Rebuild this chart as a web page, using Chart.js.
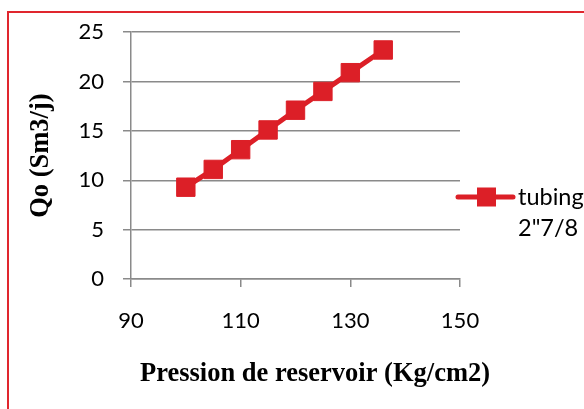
<!DOCTYPE html>
<html>
<head>
<meta charset="utf-8">
<script src="https://cdn.jsdelivr.net/npm/chart.js@4"></script>
<style>
  html, body { margin: 0; padding: 0; background: #fff; }
  #wrap { width: 584px; height: 409px; }
</style>
</head>
<body>
<div id="wrap"><canvas id="chart" width="584" height="409"></canvas></div>
<script>
// reservoir pressure vs oil rate
const pressure = [100, 105, 110, 115, 120, 125, 130, 136];
const qo = [9.3, 11.1, 13.1, 15.1, 17.1, 19.0, 20.9, 23.2];
const xTicks = [90, 110, 130, 150];
const yTicks = [0, 5, 10, 15, 20, 25];
const seriesName = 'tubing 2"7/8';
const xTitle = 'Pression de reservoir (Kg/cm2)';
const yTitle = 'Qo (Sm3/j)';

const red = '#dc1f27';
const grid = '#8a8a8a';
const tickFont = { family: 'Lato, "Open Sans", sans-serif', size: 22 };
const titleFont = { family: '"Liberation Serif", "Times New Roman", serif', size: 26.5, weight: 'bold' };

// frame around the chart (only top and left edges fall inside the canvas)
const frame = {
  id: 'frame',
  beforeDraw(chart) {
    const ctx = chart.ctx;
    ctx.save();
    ctx.fillStyle = '#fff';
    ctx.fillRect(0, 0, chart.width, chart.height);
    ctx.strokeStyle = '#e0262e';
    ctx.lineWidth = 2;
    ctx.beginPath();
    ctx.moveTo(8, chart.height);
    ctx.lineTo(8, 12);
    ctx.lineTo(chart.width, 12);
    ctx.stroke();
    ctx.restore();
  }
};

// x title is wider than the plot, so it is drawn here instead of by the scale
const bottomTitle = {
  id: 'bottomTitle',
  afterDraw(chart) {
    const ctx = chart.ctx;
    ctx.save();
    ctx.fillStyle = '#000';
    ctx.font = 'bold ' + titleFont.size + 'px ' + titleFont.family;
    ctx.textAlign = 'left';
    ctx.textBaseline = 'alphabetic';
    ctx.fillText(xTitle, chart.chartArea.left + 9, 381);
    ctx.restore();
  }
};

// legend on the right, label wrapped over two lines
const sideLegend = {
  id: 'sideLegend',
  afterDraw(chart) {
    const ctx = chart.ctx;
    const ds = chart.data.datasets[0];
    const x0 = chart.chartArea.right - 2;
    const y0 = 197;
    ctx.save();
    ctx.strokeStyle = ds.borderColor;
    ctx.lineWidth = ds.borderWidth;
    ctx.lineCap = 'round';
    ctx.beginPath();
    ctx.moveTo(x0, y0);
    ctx.lineTo(x0 + 55, y0);
    ctx.stroke();
    ctx.fillStyle = ds.pointBackgroundColor;
    ctx.fillRect(x0 + 19, y0 - 9.5, 19, 19);
    ctx.fillStyle = '#000';
    ctx.font = '23.5px ' + tickFont.family;
    ctx.textBaseline = 'alphabetic';
    ds.label.split(' ').forEach((line, i) => {
      ctx.fillText(line, x0 + 60, y0 + 8 + i * 31);
    });
    ctx.restore();
  }
};

new Chart(document.getElementById('chart'), {
  type: 'line',
  data: {
    datasets: [{
      label: seriesName,
      data: pressure.map((p, i) => ({ x: p, y: qo[i] })),
      borderColor: red,
      borderWidth: 5,
      pointStyle: 'rect',
      pointRadius: 13,
      pointBackgroundColor: red,
      pointBorderColor: red,
      pointBorderWidth: 1,
      tension: 0
    }]
  },
  options: {
    responsive: false,
    animation: false,
    devicePixelRatio: 1,
    layout: { padding: { left: 0, top: 31, right: 124, bottom: 0 } },
    plugins: {
      legend: { display: false },
      tooltip: { enabled: false }
    },
    scales: {
      x: {
        type: 'linear',
        min: 90,
        max: 150,
        afterBuildTicks: s => { s.ticks = xTicks.map(v => ({ value: v })); },
        afterFit: s => { s.height = 130; },
        border: { color: grid, width: 1.5 },
        grid: { drawOnChartArea: false, drawTicks: true, tickLength: 8, color: grid, lineWidth: 1.5 },
        ticks: { font: tickFont, color: '#000', padding: 21, maxRotation: 0 }
      },
      y: {
        min: 0,
        max: 25,
        afterBuildTicks: s => { s.ticks = yTicks.map(v => ({ value: v })); },
        afterFit: s => { s.width = 131; },
        border: { color: grid, width: 1.5 },
        grid: { color: grid, lineWidth: 1.5, tickLength: 8 },
        ticks: { font: tickFont, color: '#000', padding: 19 },
        title: { display: true, text: yTitle, font: titleFont, color: '#000', padding: { top: 25, bottom: 0 } }
      }
    }
  },
  plugins: [frame, bottomTitle, sideLegend]
});
</script>
</body>
</html>
